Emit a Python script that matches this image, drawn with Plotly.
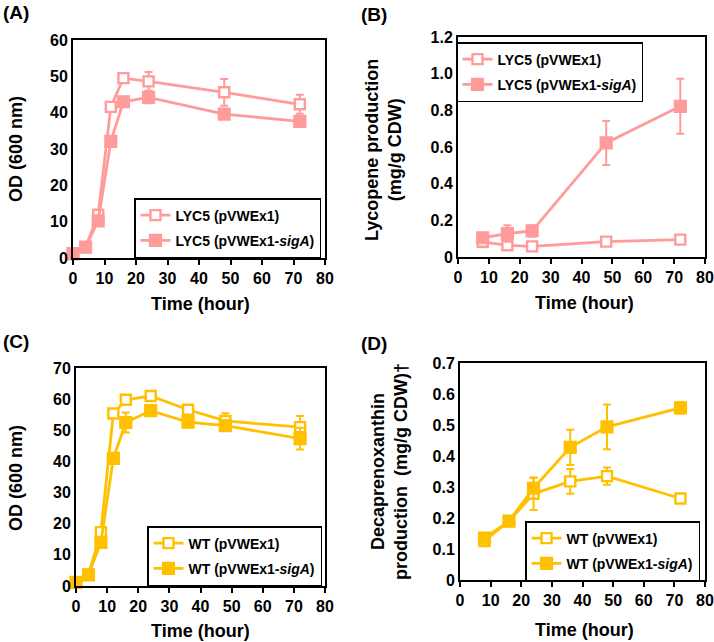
import plotly.graph_objects as go

# ---------------- data ----------------
# Panel A: OD600, LYC5
timeA = [0, 4, 8, 12, 16, 24, 48, 72]
lycA_ctrl = [1.1, 3.0, 11.9, 41.6, 49.5, 48.6, 45.6, 42.3]
lycA_ctrl_err = [0.3, 0.3, 1.0, 0.6, 1.2, 2.6, 3.7, 2.6]
lycA_sig = [1.2, 3.0, 10.2, 32.1, 43.0, 44.2, 39.6, 37.6]
lycA_sig_err = [0.3, 0.3, 0.8, 0.6, 1.0, 1.6, 0.6, 1.4]

# Panel B: lycopene production
timeB = [8, 16, 24, 48, 72]
lycB_ctrl = [0.083, 0.064, 0.058, 0.084, 0.095]
lycB_ctrl_err = [0.03, 0.01, 0.008, 0.008, 0.008]
lycB_sig = [0.105, 0.128, 0.142, 0.622, 0.822]
lycB_sig_err = [0.02, 0.045, 0.03, 0.12, 0.15]

# Panel C: OD600, WT
timeC = [0, 4, 8, 12, 16, 24, 36, 48, 72]
wtC_ctrl = [1.1, 3.6, 17.3, 55.4, 59.8, 61.0, 56.6, 53.0, 51.0]
wtC_ctrl_err = [0.3, 0.3, 0.8, 1.0, 0.8, 1.5, 0.8, 2.5, 3.6]
wtC_sig = [1.2, 3.6, 14.0, 41.0, 52.5, 56.3, 52.6, 51.5, 47.3]
wtC_sig_err = [0.3, 0.3, 0.8, 0.8, 3.2, 1.2, 0.8, 1.2, 3.5]

# Panel D: decaprenoxanthin production
timeD = [8, 16, 24, 36, 48, 72]
wtD_ctrl = [0.126, 0.190, 0.278, 0.318, 0.335, 0.263]
wtD_ctrl_err = [0.008, 0.008, 0.052, 0.040, 0.028, 0.008]
wtD_sig = [0.135, 0.190, 0.296, 0.428, 0.494, 0.555]
wtD_sig_err = [0.008, 0.008, 0.035, 0.057, 0.072, 0.018]

xticks = [0, 10, 20, 30, 40, 50, 60, 70, 80]
yticksA = [0, 10, 20, 30, 40, 50, 60]
yticksB = [0, 0.2, 0.4, 0.6, 0.8, 1.0, 1.2]
yticklabB = ["0", "0.2", "0.4", "0.6", "0.8", "1.0", "1.2"]
yticksC = [0, 10, 20, 30, 40, 50, 60, 70]
yticksD = [0, 0.1, 0.2, 0.3, 0.4, 0.5, 0.6, 0.7]
yticklabD = ["0", "0.1", "0.2", "0.3", "0.4", "0.5", "0.6", "0.7"]

PINK = "#FF9B9B"
GOLD = "#FFC000"
FONT = "Arial, Liberation Sans, sans-serif"

fig = go.Figure()


def add_pair(x, y1, e1, y2, e2, color, name1, name2, xa, ya, leg):
    fig.add_trace(go.Scatter(
        x=x, y=y1, mode="lines+markers", name=name1,
        xaxis=xa, yaxis=ya, legend=leg, legendgroup=leg + "a", cliponaxis=False,
        line=dict(color=color, width=2.8),
        marker=dict(symbol="square", size=10, color="white",
                    line=dict(color=color, width=2.4)),
        error_y=dict(type="data", array=e1, color=color, thickness=2, width=4),
    ))
    fig.add_trace(go.Scatter(
        x=x, y=y2, mode="lines+markers", name=name2,
        xaxis=xa, yaxis=ya, legend=leg, legendgroup=leg + "b", cliponaxis=False,
        line=dict(color=color, width=2.8),
        marker=dict(symbol="square", size=11, color=color,
                    line=dict(color=color, width=2.2)),
        error_y=dict(type="data", array=e2, color=color, thickness=2, width=4),
    ))


add_pair(timeA, lycA_ctrl, lycA_ctrl_err, lycA_sig, lycA_sig_err, PINK,
         "LYC5 (pVWEx1)", "LYC5 (pVWEx1-<i>sigA</i>)", "x", "y", "legend")
add_pair(timeB, lycB_ctrl, lycB_ctrl_err, lycB_sig, lycB_sig_err, PINK,
         "LYC5 (pVWEx1)", "LYC5 (pVWEx1-<i>sigA</i>)", "x2", "y2", "legend2")
add_pair(timeC, wtC_ctrl, wtC_ctrl_err, wtC_sig, wtC_sig_err, GOLD,
         "WT (pVWEx1)", "WT (pVWEx1-<i>sigA</i>)", "x3", "y3", "legend3")
add_pair(timeD, wtD_ctrl, wtD_ctrl_err, wtD_sig, wtD_sig_err, GOLD,
         "WT (pVWEx1)", "WT (pVWEx1-<i>sigA</i>)", "x4", "y4", "legend4")

W, H = 714, 642


def px_x(a, b):
    return [a / W, b / W]


def px_y(top, bottom):
    return [1 - bottom / H, 1 - top / H]


tickfont = dict(family=FONT, size=16, color="black", weight="bold")


def xax(domain, anchor):
    return dict(domain=domain, anchor=anchor, range=[0, 80], tickvals=xticks,
                showline=True, linecolor="black", linewidth=2, mirror=True,
                ticks="outside", ticklen=5, tickwidth=2, tickcolor="black",
                showgrid=False, zeroline=False, tickfont=tickfont,
                automargin=False)


def yax(domain, anchor, rng, vals, labels=None):
    d = dict(domain=domain, anchor=anchor, range=rng, tickvals=vals,
             showline=True, linecolor="black", linewidth=2, mirror=True,
             ticks="", showgrid=False, zeroline=False, tickfont=tickfont,
             automargin=False)
    if labels:
        d["ticktext"] = labels
    return d


legfont = dict(family=FONT, size=14, color="black", weight="bold")


def leg(xr, y):
    return dict(x=xr / W, y=1 - y / H, xanchor="right", yanchor="top",
                bgcolor="white", bordercolor="black", borderwidth=1.5,
                font=legfont, tracegroupgap=4)


fig.update_layout(
    width=W, height=H, margin=dict(l=0, r=0, t=0, b=0, autoexpand=False),
    paper_bgcolor="white", plot_bgcolor="white",
    font=dict(family=FONT, color="black", weight="bold"),
    xaxis=xax(px_x(73, 325), "y"),
    yaxis=yax(px_y(40, 258), "x", [0, 60], yticksA),
    xaxis2=xax(px_x(458, 705), "y2"),
    yaxis2=yax(px_y(37, 257), "x2", [0, 1.2], yticksB, yticklabB),
    xaxis3=xax(px_x(76, 325), "y3"),
    yaxis3=yax(px_y(368, 586), "x3", [0, 70], yticksC),
    xaxis4=xax(px_x(460, 705), "y4"),
    yaxis4=yax(px_y(363, 580), "x4", [0, 0.7], yticksD, yticklabD),
    legend=leg(321, 198),
    legend2=leg(643, 42),
    legend3=leg(322, 526),
    legend4=leg(700, 521),
    showlegend=True,
)

titlefont = dict(family=FONT, size=18, color="black", weight="bold")
labfont = dict(family=FONT, size=19, color="black", weight="bold")


def ann(text, x, y, angle=0, font=titlefont, xanchor="center"):
    fig.add_annotation(text=text, x=x / W, y=1 - y / H, xref="paper", yref="paper",
                       showarrow=False, textangle=angle, font=font,
                       xanchor=xanchor, yanchor="middle")


# panel labels
ann("(A)", 1, 13, font=labfont, xanchor="left")
ann("(B)", 359, 15, font=labfont, xanchor="left")
ann("(C)", 1, 341, font=labfont, xanchor="left")
ann("(D)", 359, 343, font=labfont, xanchor="left")

# x titles
ann("Time (hour)", 200, 304)
ann("Time (hour)", 584, 303)
ann("Time (hour)", 200, 631)
ann("Time (hour)", 584, 630)

# y titles
ann("OD (600 nm)", 16, 149, angle=-90)
ann("Lycopene production<br>(mg/g CDW)", 383, 150, angle=-90)
ann("OD (600 nm)", 16, 478, angle=-90)
ann("Decaprenoxanthin<br>production  (mg/g CDW)†", 389, 471, angle=-90)

fig.write_html(
    "out.html",
    config={"displayModeBar": False},
    post_script="document.body.style.margin='0';document.body.style.overflow='hidden';",
)
